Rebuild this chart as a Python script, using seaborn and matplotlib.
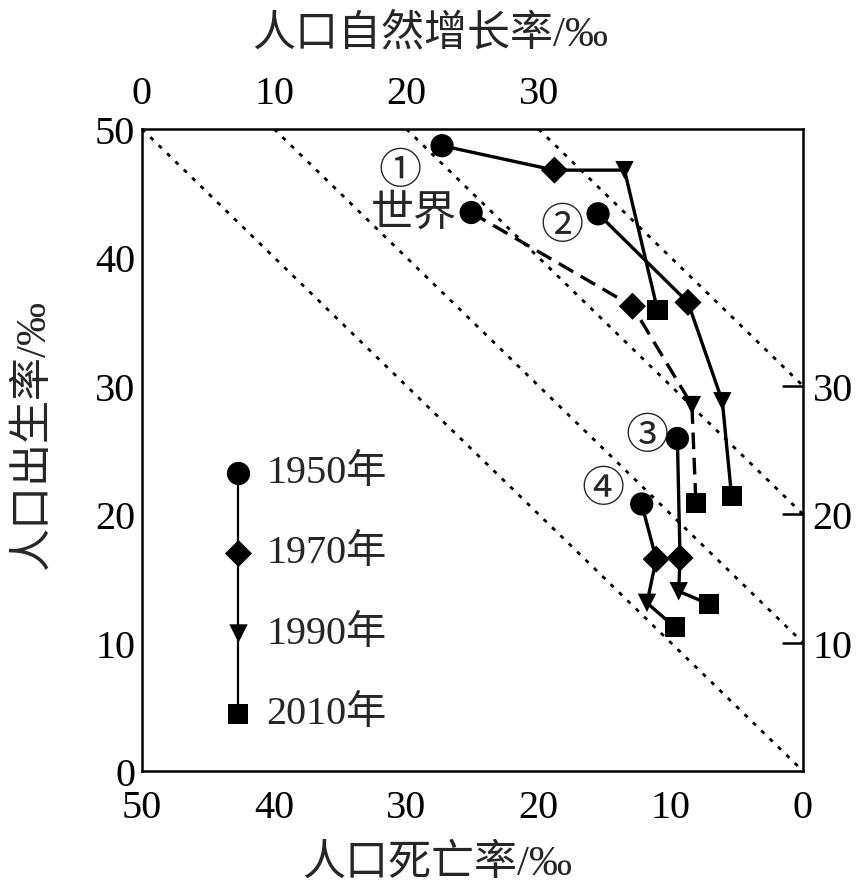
import numpy as np
import pandas as pd
import matplotlib
matplotlib.use('Agg')
import matplotlib.pyplot as plt
import seaborn as sns

# ---- data ----
years = ['1950年', '1970年', '1990年', '2010年']
regions = ['①', '世界', '②', '③', '④']

death_1 = [27.3, 18.8, 13.5, 11.0]
birth_1 = [48.7, 46.8, 46.8, 35.9]
death_world = [25.1, 12.9, 8.4, 8.1]
birth_world = [43.5, 36.2, 28.5, 20.9]
death_2 = [15.5, 8.7, 6.1, 5.4]
birth_2 = [43.4, 36.5, 28.8, 21.4]
death_3 = [9.5, 9.3, 9.4, 7.1]
birth_3 = [25.9, 16.6, 14.0, 13.0]
death_4 = [12.2, 11.1, 11.8, 9.7]
birth_4 = [20.8, 16.5, 13.1, 11.2]

growth_levels = [0, 10, 20, 30]     # natural growth rate lines (birth - death)
axis_ticks = [0, 10, 20, 30, 40, 50]
right_ticks = [10, 20, 30]

deaths = [death_1, death_world, death_2, death_3, death_4]
births = [birth_1, birth_world, birth_2, birth_3, birth_4]
df = pd.concat([
    pd.DataFrame({'region': r, 'year': years, 'death': d, 'birth': b})
    for r, d, b in zip(regions, deaths, births)
], ignore_index=True)

# ---- style ----
sns.set_theme(style='white')
plt.rcParams['font.family'] = ['Liberation Serif', 'Noto Sans CJK SC', 'DejaVu Sans']
plt.rcParams['axes.unicode_minus'] = False
FS = 29
FS_LABEL = 31

marker_map = {'1950年': 'o', '1970年': 'D', '1990年': 'v', '2010年': 's'}
size_map = {'1950年': 280, '1970年': 190, '1990年': 175, '2010年': 210}
line_styles = {'①': '-', '世界': (0, (5, 2.6)), '②': '-', '③': '-', '④': '-'}

fig = plt.figure(figsize=(8.61, 8.95), dpi=100)
ax = fig.add_axes([0.1649, 0.1374, 0.7677, 0.7173])

# dotted natural-growth lines
for g in growth_levels:
    d = np.array([50 - g, 0])
    ax.plot(d, d + g, color='black', lw=2.0, linestyle=(0, (1.5, 2.7)), zorder=1)

# trajectories
for r in regions:
    sub = df[df['region'] == r]
    sns.lineplot(data=sub, x='death', y='birth', sort=False, estimator=None,
                 color='black', lw=2.4, linestyle=line_styles[r], ax=ax, zorder=2)

sns.scatterplot(data=df, x='death', y='birth', style='year', markers=marker_map,
                size='year', sizes=size_map, color='black', linewidth=0,
                legend=False, ax=ax, zorder=3)

# region labels
label_offsets = {'①': (-30, -19, 'center'), '世界': (-10, -1, 'right'),
                 '②': (-26, -10, 'center'), '③': (-22, 1, 'center'),
                 '④': (-28, 10, 'center')}
for r, d, b in zip(regions, deaths, births):
    dx, dy, ha = label_offsets[r]
    ax.annotate(r, xy=(d[0], b[0]), xytext=(dx, dy), textcoords='offset points',
                ha=ha, va='center', fontsize=FS_LABEL)

# custom legend: markers on a vertical line
leg_y = np.linspace(0.465, 0.089, len(years))
leg_x = 0.1457
ax.plot([leg_x, leg_x], [leg_y[0], leg_y[-1]], color='black', lw=1.6,
        transform=ax.transAxes, zorder=2)
for y, yr in zip(leg_y, years):
    ax.scatter([leg_x], [y], marker=marker_map[yr], s=size_map[yr], color='black',
               linewidths=0, transform=ax.transAxes, zorder=3)
    ax.text(leg_x + 0.042, y, yr, transform=ax.transAxes, fontsize=FS,
            va='center', ha='left')

# axes
ax.set_xlim(50, 0)
ax.set_ylim(0, 50)
ax.set_xticks(axis_ticks)
ax.set_yticks(axis_ticks)
ax.tick_params(axis='both', direction='in', length=15, width=1.8, labelsize=FS,
               colors='black', pad=5)
ax.tick_params(axis='x', pad=13)
for s in ax.spines.values():
    s.set_linewidth(1.8)
    s.set_color('black')

ax.set_xlabel('人口死亡率/‰', fontsize=FS_LABEL)
ax.xaxis.set_label_coords(0.446, -0.112)
ax.set_ylabel('人口出生率/‰', fontsize=FS_LABEL)
ax.yaxis.set_label_coords(-0.135, 0.525)

top = ax.secondary_xaxis('top', functions=(lambda d: 50 - d, lambda g: 50 - g))
top.set_xticks(growth_levels)
top.tick_params(length=0, labelsize=FS, pad=12, colors='black')
top.spines['top'].set_visible(False)
top.set_xlabel('人口自然增长率/‰', fontsize=FS_LABEL)
top.xaxis.set_label_coords(0.436, 1.132, transform=ax.transAxes)

right = ax.secondary_yaxis('right')
right.set_yticks(right_ticks)
right.tick_params(direction='in', length=15, width=1.8, labelsize=FS, pad=7,
                  colors='black')
right.spines['right'].set_visible(False)

fig.savefig('out.png', dpi=100, facecolor='white')
